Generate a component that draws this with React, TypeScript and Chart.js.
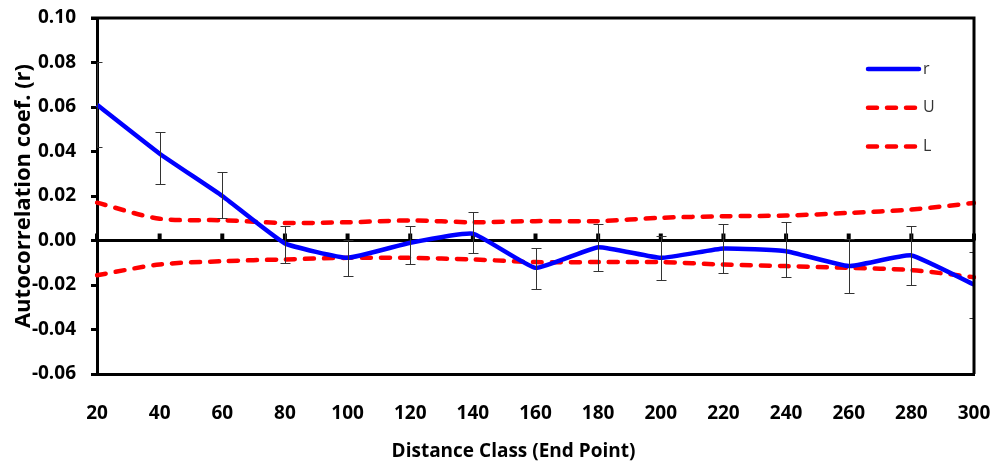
import React, { useEffect, useRef } from 'react';
import { Chart, registerables } from 'chart.js';

Chart.register(...registerables);

const distanceClasses = ['20', '40', '60', '80', '100', '120', '140', '160', '180', '200', '220', '240', '260', '280', '300'];
const rValues = [0.061, 0.039, 0.02, -0.0013, -0.0078, -0.001, 0.0031, -0.0123, -0.003, -0.0078, -0.0036, -0.0048, -0.0115, -0.0067, -0.0198];
const rErrHigh = [0.08, 0.0487, 0.0307, 0.0067, 0.0004, 0.0067, 0.0129, -0.0035, 0.0073, 0.0022, 0.0076, 0.0082, 0.0005, 0.0064, -0.005];
const rErrLow = [0.042, 0.0252, 0.0102, -0.01, -0.016, -0.0105, -0.0058, -0.0216, -0.0135, -0.0178, -0.0148, -0.0165, -0.0235, -0.0202, -0.035];
const upperBound = [0.017, 0.0098, 0.0091, 0.0079, 0.0082, 0.009, 0.0082, 0.0087, 0.0087, 0.0102, 0.0109, 0.0112, 0.0124, 0.0139, 0.0169];
const lowerBound = [-0.0156, -0.0108, -0.0093, -0.0085, -0.0078, -0.0078, -0.0085, -0.0097, -0.0097, -0.0097, -0.0108, -0.0115, -0.0123, -0.0133, -0.0165];
const seriesLabels = ['r', 'U', 'L'];
const yMin = -0.06;
const yMax = 0.1;
const yStep = 0.02;
const xTitle = 'Distance Class (End Point)';
const yTitle = 'Autocorrelation coef. (r)';

const FONT = '"Open Sans", "DejaVu Sans", sans-serif';

const decorPlugin = {
  id: 'decor',
  beforeDatasetsDraw(chart: any) {
    const { ctx, scales } = chart;
    const x = scales.x;
    const y0 = scales.y.getPixelForValue(0);
    ctx.save();
    ctx.fillStyle = '#000';
    for (let i = 0; i < distanceClasses.length; i++) {
      const px = x.getPixelForValue(i);
      ctx.fillRect(px - 2, y0 - 7, 4, 7);
    }
    ctx.restore();
  },
  afterDatasetsDraw(chart: any) {
    const { ctx, chartArea, scales } = chart;
    const x = scales.x;
    const y = scales.y;
    ctx.save();
    ctx.beginPath();
    ctx.rect(chartArea.left, chartArea.top, chartArea.right - chartArea.left, chartArea.bottom - chartArea.top);
    ctx.clip();
    ctx.strokeStyle = '#333';
    ctx.lineWidth = 1;
    for (let i = 0; i < rValues.length; i++) {
      const px = Math.round(x.getPixelForValue(i)) + 0.5;
      const yh = Math.round(y.getPixelForValue(rErrHigh[i])) + 0.5;
      const yl = Math.round(y.getPixelForValue(rErrLow[i])) + 0.5;
      ctx.beginPath();
      ctx.moveTo(px, yh);
      ctx.lineTo(px, yl);
      ctx.moveTo(px - 5, yh);
      ctx.lineTo(px + 5, yh);
      ctx.moveTo(px - 5, yl);
      ctx.lineTo(px + 5, yl);
      ctx.stroke();
    }
    ctx.restore();
    ctx.save();
    ctx.strokeStyle = '#000';
    ctx.lineWidth = 3;
    ctx.beginPath();
    ctx.moveTo(chartArea.left - 6, chartArea.top);
    ctx.lineTo(chartArea.right, chartArea.top);
    ctx.lineTo(chartArea.right, chartArea.bottom);
    ctx.stroke();
    ctx.restore();
  },
  afterDraw(chart: any) {
    const { ctx, chartArea } = chart;
    ctx.save();
    chart.data.datasets.forEach((ds: any, i: number) => {
      const ly = chartArea.top + 51 + i * 38.8;
      const x1 = chartArea.right - 106;
      const x2 = chartArea.right - 55;
      ctx.strokeStyle = ds.borderColor;
      ctx.lineWidth = ds.borderWidth;
      ctx.lineCap = 'round';
      ctx.setLineDash(ds.borderDash || []);
      ctx.beginPath();
      ctx.moveTo(x1, ly);
      ctx.lineTo(x2, ly);
      ctx.stroke();
      ctx.setLineDash([]);
      ctx.fillStyle = '#333';
      ctx.font = `16px ${FONT}`;
      ctx.textAlign = 'left';
      ctx.textBaseline = 'middle';
      ctx.fillText(ds.label, x2 + 4, ly);
    });
    ctx.fillStyle = '#000';
    ctx.font = `bold 19px ${FONT}`;
    ctx.textAlign = 'center';
    ctx.textBaseline = 'middle';
    ctx.fillText(xTitle, (chartArea.left + chartArea.right) / 2 - 22, chart.height - 16);
    ctx.restore();
  },
};

export default function App() {
  const ref = useRef<HTMLCanvasElement>(null);
  useEffect(() => {
    const chart = new Chart(ref.current!, {
      type: 'line',
      data: {
        labels: distanceClasses,
        datasets: [
          {
            label: seriesLabels[0],
            data: rValues,
            borderColor: '#0000FF',
            backgroundColor: '#0000FF',
            borderWidth: 4.5,
            pointRadius: 0,
            tension: 0.12,
            borderJoinStyle: 'round',
          },
          {
            label: seriesLabels[1],
            data: upperBound,
            borderColor: '#FF0000',
            backgroundColor: '#FF0000',
            borderWidth: 4.5,
            borderDash: [9, 10],
            borderCapStyle: 'round',
            pointRadius: 0,
            tension: 0.3,
          },
          {
            label: seriesLabels[2],
            data: lowerBound,
            borderColor: '#FF0000',
            backgroundColor: '#FF0000',
            borderWidth: 4.5,
            borderDash: [9, 10],
            borderCapStyle: 'round',
            pointRadius: 0,
            tension: 0.3,
          },
        ],
      },
      options: {
        responsive: false,
        animation: false,
        layout: { padding: { top: 18, right: 16, left: 0, bottom: 0 } },
        plugins: { legend: { display: false }, tooltip: { enabled: false } },
        scales: {
          x: {
            type: 'category',
            offset: false,
            grid: { display: false },
            border: { display: true, color: '#000', width: 3 },
            ticks: {
              color: '#000',
              font: { family: FONT, size: 19, weight: 'bold' },
              padding: 20,
              maxRotation: 0,
              autoSkip: false,
            },
            afterFit(scale: any) {
              scale.height = 94;
              scale.paddingRight = 0;
              scale.paddingLeft = 0;
              scale.paddingTop = 0;
              scale.paddingBottom = 0;
            },
          },
          y: {
            min: yMin,
            max: yMax,
            grid: {
              color: (c: any) => (c.tick && Math.abs(c.tick.value) < 1e-9 ? '#000' : 'rgba(0,0,0,0)'),
              lineWidth: 3,
              drawTicks: true,
              tickLength: 6,
              tickColor: '#000',
              tickWidth: 3,
            },
            border: { display: true, color: '#000', width: 3 },
            ticks: {
              stepSize: yStep,
              color: '#000',
              font: { family: FONT, size: 19, weight: 'bold' },
              padding: 15,
              callback: (v: any) => Number(v).toFixed(2),
            },
            title: {
              display: true,
              text: yTitle,
              color: '#000',
              font: { family: FONT, size: 22, weight: 'bold' },
              padding: { top: 11, bottom: 0 },
            },
            afterFit(scale: any) {
              scale.width = 97;
              scale.paddingTop = 0;
              scale.paddingBottom = 0;
              scale.paddingLeft = 0;
              scale.paddingRight = 0;
            },
          },
        },
      },
      plugins: [decorPlugin],
    });
    return () => chart.destroy();
  }, []);
  return (
    <div style={{ position: 'absolute', left: 0, top: 0, width: 990, height: 468, background: '#fff' }}>
      <canvas ref={ref} width={990} height={468} style={{ display: 'block' }} />
    </div>
  );
}
